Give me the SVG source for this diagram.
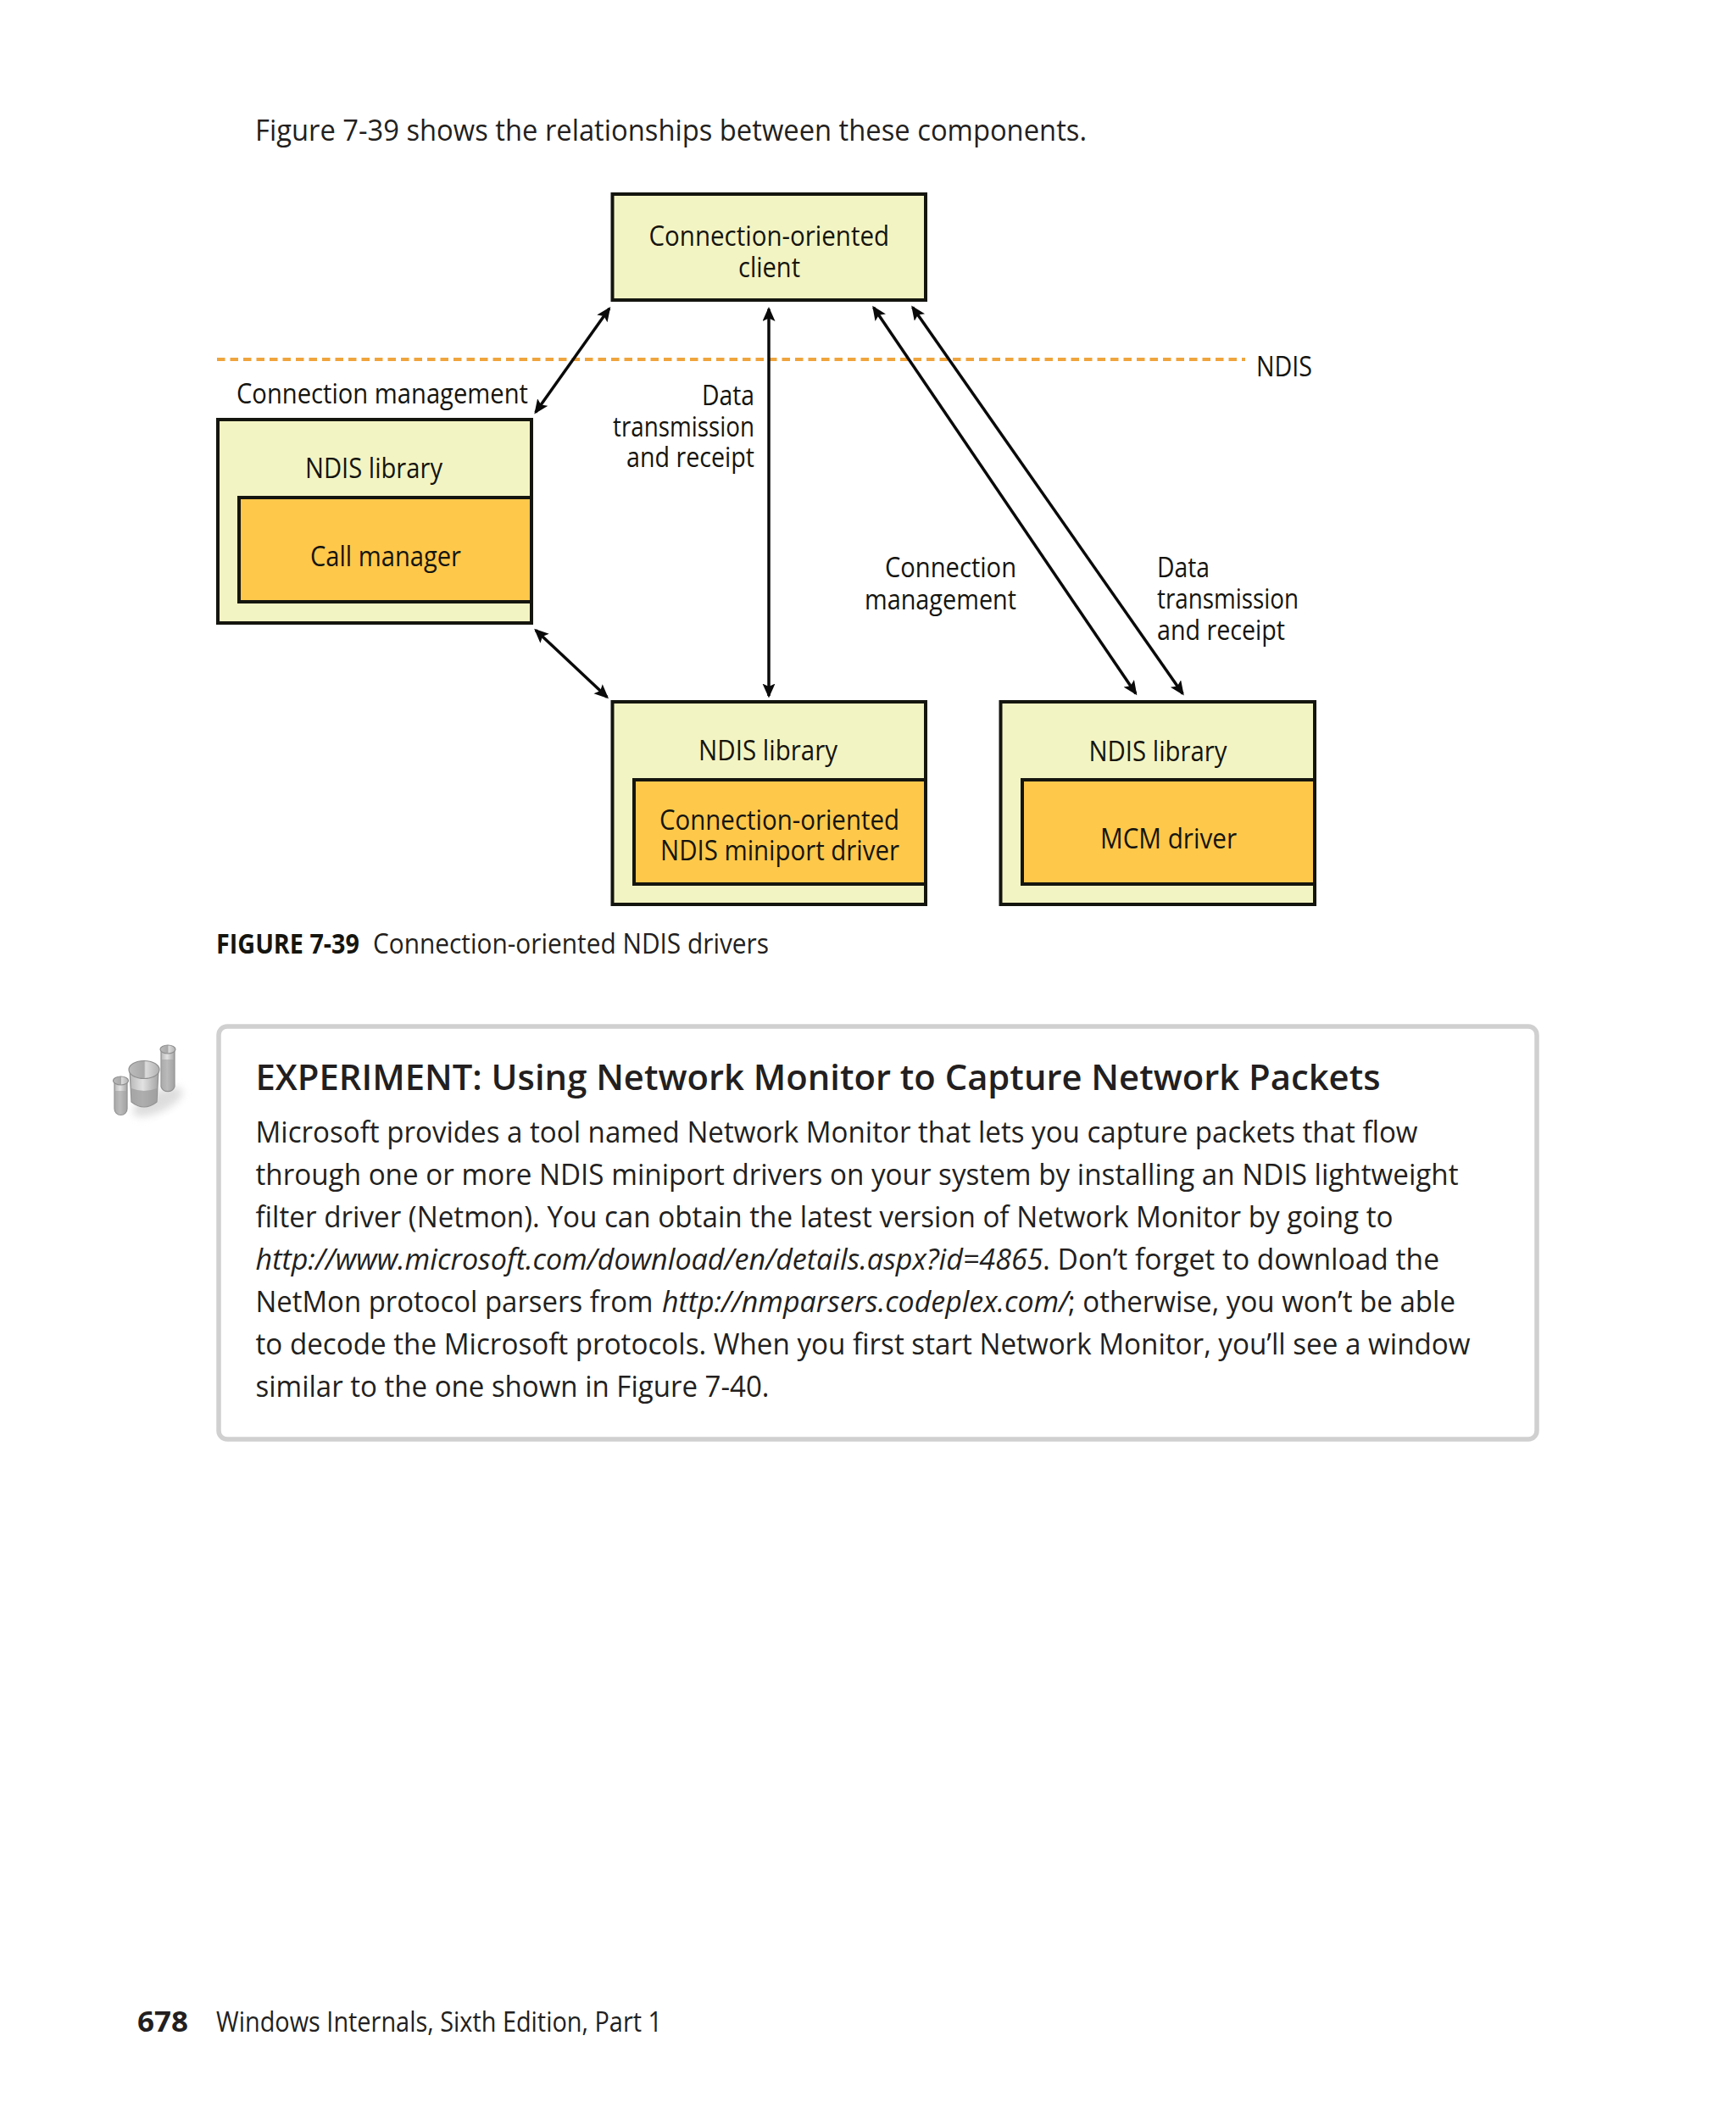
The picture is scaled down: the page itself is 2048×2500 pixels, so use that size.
<svg xmlns="http://www.w3.org/2000/svg" width="2048" height="2500" viewBox="0 0 2048 2500">
<style>
text{font-family:"Open Sans","Noto Sans","Liberation Sans",sans-serif;fill:#231f20}
.d{font-size:32px;fill:#15150f}
.b{font-size:34px}
.i{font-style:italic}
.h{font-size:42px;font-weight:600}
.lib{fill:#f3f4c3;stroke:#15150f;stroke-width:4}
.drv{fill:#fec84b;stroke:#15150f;stroke-width:4}
.arr{stroke:#0a0a0a;stroke-width:3.500;fill:none;marker-start:url(#a);marker-end:url(#a)}
.glass{stroke:#8f8f8f;stroke-width:1.200}
</style>
<defs>
<marker id="a" markerUnits="userSpaceOnUse" markerWidth="18" markerHeight="16" refX="14.500" refY="7.500" orient="auto-start-reverse"><path d="M0 0L17 7.500L0 15L3.500 7.500Z" fill="#0a0a0a"/></marker>
<linearGradient id="g" x1="0" x2="1" y1="0" y2="0"><stop offset="0" stop-color="#b8b8b8"/><stop offset=".45" stop-color="#e2e2e2"/><stop offset="1" stop-color="#a4a4a4"/></linearGradient>
<linearGradient id="r" x1="0" x2="1" y1="0" y2="0"><stop offset="0" stop-color="#bcbcbc"/><stop offset=".5" stop-color="#a8a8a8"/><stop offset=".55" stop-color="#dcdcdc"/><stop offset="1" stop-color="#b0b0b0"/></linearGradient>
<filter id="bl" x="-30%" y="-30%" width="160%" height="160%"><feGaussianBlur stdDeviation="5"/></filter>
</defs>
<rect width="2048" height="2500" fill="#fff"/>
<text id="intro" class="b" x="301" y="166" textLength="981" lengthAdjust="spacingAndGlyphs">Figure 7-39 shows the relationships between these components.</text>

<g id="ndis-boundary">
<line x1="256" y1="424" x2="1469" y2="424" stroke="#efa43c" stroke-width="4" stroke-dasharray="9.500 6"/>
<text class="d" x="1482" y="444" textLength="66" lengthAdjust="spacingAndGlyphs">NDIS</text>
</g>

<g id="client">
<rect class="lib" x="722.500" y="229" width="369.500" height="125"/>
<text class="d" x="765.500" y="290" textLength="283.500" lengthAdjust="spacingAndGlyphs">Connection-oriented</text>
<text class="d" x="871" y="326.500" textLength="73" lengthAdjust="spacingAndGlyphs">client</text>
</g>
<g id="call-manager">
<rect class="lib" x="257" y="495" width="370" height="240"/>
<rect class="drv" x="282" y="587" width="345" height="123"/>
<text class="d" x="360" y="564" textLength="162" lengthAdjust="spacingAndGlyphs">NDIS library</text>
<text class="d" x="366" y="667.500" textLength="178" lengthAdjust="spacingAndGlyphs">Call manager</text>
</g>
<g id="miniport">
<rect class="lib" x="722.500" y="828" width="369.500" height="239"/>
<rect class="drv" x="748" y="920" width="344" height="123"/>
<text class="d" x="824" y="897" textLength="164" lengthAdjust="spacingAndGlyphs">NDIS library</text>
<text class="d" x="778" y="978.500" textLength="283" lengthAdjust="spacingAndGlyphs">Connection-oriented</text>
<text class="d" x="779" y="1014.500" textLength="282" lengthAdjust="spacingAndGlyphs">NDIS miniport driver</text>
</g>
<g id="mcm">
<rect class="lib" x="1180.500" y="828" width="370.500" height="239"/>
<rect class="drv" x="1206" y="920" width="345" height="123"/>
<text class="d" x="1284.500" y="898" textLength="163" lengthAdjust="spacingAndGlyphs">NDIS library</text>
<text class="d" x="1298" y="1001" textLength="161" lengthAdjust="spacingAndGlyphs">MCM driver</text>
</g>

<g id="connectors">
<line class="arr" x1="718.800" y1="364.100" x2="631.800" y2="486.400"/>
<line class="arr" x1="907" y1="364.500" x2="907" y2="821"/>
<line class="arr" x1="1030.600" y1="362.700" x2="1339.900" y2="818.300"/>
<line class="arr" x1="1076.600" y1="362.600" x2="1395.300" y2="818.400"/>
<line class="arr" x1="632" y1="743.400" x2="716.200" y2="822.600"/>
</g>

<g id="connector-labels">
<text class="d" x="279" y="475.500" textLength="344" lengthAdjust="spacingAndGlyphs">Connection management</text>
<text class="d" x="828" y="478" textLength="62" lengthAdjust="spacingAndGlyphs">Data</text>
<text class="d" x="723" y="514.500" textLength="167" lengthAdjust="spacingAndGlyphs">transmission</text>
<text class="d" x="739" y="551" textLength="151" lengthAdjust="spacingAndGlyphs">and receipt</text>
<text class="d" x="1044" y="681" textLength="155" lengthAdjust="spacingAndGlyphs">Connection</text>
<text class="d" x="1020" y="718.500" textLength="179" lengthAdjust="spacingAndGlyphs">management</text>
<text class="d" x="1365" y="681" textLength="62" lengthAdjust="spacingAndGlyphs">Data</text>
<text class="d" x="1365" y="718" textLength="167" lengthAdjust="spacingAndGlyphs">transmission</text>
<text class="d" x="1365" y="754.500" textLength="151" lengthAdjust="spacingAndGlyphs">and receipt</text>
</g>

<g id="caption">
<text class="d" x="255" y="1124.500" font-weight="700" textLength="169" lengthAdjust="spacingAndGlyphs">FIGURE 7-39</text>
<text class="d" x="440" y="1124.500" textLength="467" lengthAdjust="spacingAndGlyphs" style="fill:#231f20">Connection-oriented NDIS drivers</text>
</g>

<g id="icon">
<ellipse cx="186" cy="1300" rx="32" ry="12" fill="#bbb" opacity=".5" filter="url(#bl)" transform="rotate(-25 186 1300)"/>
<path class="glass" fill="url(#g)" d="M190 1238V1282A8.500 8.500 0 0 0 206 1282V1238Z"/>
<path fill="#a0a0a0" d="M190.500 1250V1282A8 8 0 0 0 205.500 1282V1250Z" opacity=".6"/>
<ellipse class="glass" cx="198" cy="1238" rx="9" ry="5" fill="url(#r)"/>
<path class="glass" fill="url(#g)" d="M153 1262L155 1300Q170 1312 185 1300L187 1262Z"/>
<path fill="#9c9c9c" d="M155 1284L155.500 1300Q170 1312 184.500 1300L185 1284Q170 1290 155 1284Z" opacity=".75"/>
<ellipse class="glass" cx="170" cy="1262" rx="18" ry="10.500" fill="url(#r)"/>
<path class="glass" fill="url(#g)" d="M135 1275V1308A7.500 7.500 0 0 0 150 1308V1275Z"/>
<path fill="#a0a0a0" d="M135.500 1287V1308A7 7 0 0 0 149.500 1308V1287Z" opacity=".6"/>
<ellipse class="glass" cx="142.500" cy="1275" rx="9" ry="5" fill="url(#r)"/>
</g>

<g id="experiment">
<rect x="258" y="1211" width="1555" height="487" rx="10" fill="#fff" stroke="#d0d0d0" stroke-width="5.500"/>
<text class="h" x="301.500" y="1285.500" textLength="1327" lengthAdjust="spacingAndGlyphs">EXPERIMENT: Using Network Monitor to Capture Network Packets</text>
<text class="b" x="301.500" y="1347.500" textLength="1371" lengthAdjust="spacingAndGlyphs">Microsoft provides a tool named Network Monitor that lets you capture packets that flow</text>
<text class="b" x="301.500" y="1397.500" textLength="1419" lengthAdjust="spacingAndGlyphs">through one or more NDIS miniport drivers on your system by installing an NDIS lightweight</text>
<text class="b" x="301.500" y="1447.500" textLength="1342" lengthAdjust="spacingAndGlyphs">filter driver (Netmon). You can obtain the latest version of Network Monitor by going to</text>
<text class="b i" x="301.500" y="1497.500" textLength="929" lengthAdjust="spacingAndGlyphs">http://www.microsoft.com/download/en/details.aspx?id=4865</text>
<text class="b" x="1230" y="1497.500" textLength="468" lengthAdjust="spacingAndGlyphs">. Don’t forget to download the</text>
<text class="b" x="301.500" y="1547.500" textLength="469" lengthAdjust="spacingAndGlyphs">NetMon protocol parsers from</text>
<text class="b i" x="781" y="1547.500" textLength="480" lengthAdjust="spacingAndGlyphs">http://nmparsers.codeplex.com/</text>
<text class="b" x="1260" y="1547.500" textLength="457" lengthAdjust="spacingAndGlyphs">; otherwise, you won’t be able</text>
<text class="b" x="301.500" y="1597.500" textLength="1433" lengthAdjust="spacingAndGlyphs">to decode the Microsoft protocols. When you first start Network Monitor, you’ll see a window</text>
<text class="b" x="301.500" y="1647.500" textLength="606" lengthAdjust="spacingAndGlyphs">similar to the one shown in Figure 7-40.</text>
</g>

<g id="footer">
<text class="b" x="162" y="2397" font-weight="700" textLength="60" lengthAdjust="spacingAndGlyphs">678</text>
<text class="d" x="255" y="2397" textLength="526" lengthAdjust="spacingAndGlyphs" style="fill:#231f20">Windows Internals, Sixth Edition, Part 1</text>
</g>
</svg>
